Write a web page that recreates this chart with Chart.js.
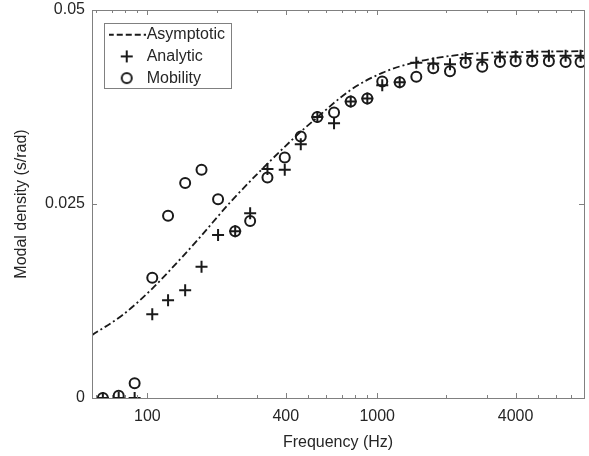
<!DOCTYPE html>
<html>
<head>
<meta charset="utf-8">
<script src="https://cdn.jsdelivr.net/npm/chart.js@4.4.1/dist/chart.umd.min.js"></script>
<style>
  html, body { margin: 0; padding: 0; background: #fff; }
</style>
</head>
<body>
<canvas id="modal" width="589" height="456"></canvas>
<script>
// ── data ────────────────────────────────────────────────────────────────────
const freqHz = [64, 75, 88, 105, 123, 146, 172, 203, 241, 280, 333, 396, 465, 549, 649,
                767, 906, 1052, 1253, 1480, 1754, 2074, 2426, 2866, 3421, 4004, 4728, 5588, 6606, 7676];
const analytic = [0, 0, 0, 0.0108, 0.0126, 0.0139, 0.0169, 0.0210, 0.0215, 0.0238, 0.0295, 0.0294,
                  0.0327, 0.0362, 0.0354, 0.0382, 0.0386, 0.0403, 0.0407, 0.0432, 0.0431, 0.0430,
                  0.0438, 0.0436, 0.0440, 0.0440, 0.0441, 0.0441, 0.0441, 0.0441];
const mobility = [0, 0.0003, 0.0019, 0.0155, 0.0235, 0.0277, 0.0294, 0.0256, 0.0215, 0.0228, 0.0284,
                  0.0310, 0.0337, 0.0362, 0.0368, 0.0382, 0.0386, 0.0408, 0.0407, 0.0414, 0.0425,
                  0.0421, 0.0432, 0.0427, 0.0433, 0.0434, 0.0434, 0.0434, 0.0433, 0.0433];
const asymFreqHz = [57.4, 78, 105, 142, 168, 234, 427, 550, 767, 1052, 1480, 2426, 4600, 7943];
const asymptotic = [0.0081, 0.0107, 0.0141, 0.0182, 0.0206, 0.0255, 0.0333, 0.0362, 0.0397,
                    0.0419, 0.0433, 0.0443, 0.0446, 0.0447];

const xTickLabels = [100, 400, 1000, 4000];
const xMinorTicks = [60, 70, 80, 90, 200, 300, 500, 600, 700, 800, 900, 2000, 3000, 5000, 6000, 7000];
const yTicks = [0, 0.025, 0.05];

const INK = "#1a1a1a";
const TEXT = "#262626";
const AXIS = "#808080";

Chart.defaults.font.family = "'Liberation Sans', Arial, sans-serif";
Chart.defaults.font.size = 16;
Chart.defaults.color = TEXT;

const toPoints = (xs, ys) => xs.map((x, i) => ({ x, y: ys[i] }));

// ── legend symbols (small canvases used as point styles) ───────────────────
function makeSymbol(kind) {
    const c = document.createElement("canvas");
    c.width = kind === "line" ? 38 : 16;
    c.height = 16;
    const g = c.getContext("2d");
    g.strokeStyle = INK;
    g.lineWidth = 2;
    if (kind === "line") {
        g.setLineDash([6, 3]);
        g.beginPath(); g.moveTo(0, 8); g.lineTo(38, 8); g.stroke();
    } else if (kind === "cross") {
        g.beginPath();
        g.moveTo(2, 8); g.lineTo(14, 8);
        g.moveTo(8, 2); g.lineTo(8, 14);
        g.stroke();
    } else {
        g.beginPath(); g.arc(8, 8, 5, 0, Math.PI * 2); g.stroke();
    }
    return c;
}
const legendSymbols = [makeSymbol("line"), makeSymbol("cross"), makeSymbol("circle")];

// ── box, inward ticks and legend frame ──────────────────────────────────────
const axesBox = {
    id: "axesBox",
    afterLayout(chart) {
        const lg = chart.legend, a = chart.chartArea;
        if (!lg) return;
        lg.left = a.left + 17; lg.top = a.top + 11;
        lg.right = lg.left + lg.width; lg.bottom = lg.top + lg.height;
    },
    afterDraw(chart) {
        const { ctx, chartArea: a, scales: { x, y } } = chart;
        ctx.save();
        ctx.strokeStyle = AXIS;
        ctx.lineWidth = 1;
        ctx.strokeRect(a.left + 0.5, a.top + 0.5, a.right - a.left, a.bottom - a.top);
        ctx.beginPath();
        const xt = (v, len) => {
            const px = Math.round(x.getPixelForValue(v)) + 0.5;
            ctx.moveTo(px, a.bottom); ctx.lineTo(px, a.bottom - len);
            ctx.moveTo(px, a.top); ctx.lineTo(px, a.top + len);
        };
        xTickLabels.forEach(v => xt(v, 5));
        xMinorTicks.forEach(v => xt(v, 3));
        yTicks.forEach(v => {
            const py = Math.round(y.getPixelForValue(v)) + 0.5;
            ctx.moveTo(a.left, py); ctx.lineTo(a.left + 5, py);
            ctx.moveTo(a.right, py); ctx.lineTo(a.right - 5, py);
        });
        ctx.stroke();

        const hb = chart.legend && chart.legend.legendHitBoxes;
        if (hb && hb.length) {
            const l = Math.min(...hb.map(h => h.left)) - 11;
            const t = hb[0].top - 4;
            const r = Math.max(...hb.map(h => h.left + h.width)) + 6;
            const b = hb[hb.length - 1].top + hb[hb.length - 1].height + 2;
            ctx.strokeRect(Math.round(l) + 0.5, Math.round(t) + 0.5, Math.round(r - l), Math.round(b - t));
        }
        ctx.restore();
    },
};

new Chart(document.getElementById("modal"), {
    type: "scatter",
    data: {
        datasets: [
            {
                label: "Asymptotic",
                data: toPoints(asymFreqHz, asymptotic),
                showLine: true,
                borderColor: INK,
                borderWidth: 1.8,
                borderDash: [7, 3, 2, 3],
                pointRadius: 0,
                cubicInterpolationMode: "monotone",
            },
            {
                label: "Analytic",
                data: toPoints(freqHz, analytic),
                pointStyle: "cross",
                pointRadius: 6,
                borderWidth: 2,
                borderColor: INK,
            },
            {
                label: "Mobility",
                data: toPoints(freqHz, mobility),
                pointStyle: "circle",
                pointRadius: 5,
                borderWidth: 2,
                borderColor: INK,
                backgroundColor: "transparent",
            },
        ],
    },
    options: {
        responsive: false,
        animation: false,
        devicePixelRatio: 1,
        layout: { autoPadding: false, padding: { top: 10, right: 5, left: 0, bottom: 0 } },
        scales: {
            x: {
                type: "logarithmic",
                min: 57.4,
                max: 7943,
                grid: { display: false, drawTicks: false },
                border: { display: false },
                afterBuildTicks: s => { s.ticks = xTickLabels.map(v => ({ value: v })); },
                afterFit: s => { s.height = 58; s.paddingLeft = 0; s.paddingRight = 0; },
                ticks: { padding: 9, autoSkip: false, maxRotation: 0, callback: v => String(v) },
                title: { display: true, text: "Frequency (Hz)", padding: { top: 0, bottom: 4 } },
            },
            y: {
                min: 0,
                max: 0.05,
                grid: { display: false, drawTicks: false },
                border: { display: false },
                afterBuildTicks: s => { s.ticks = yTicks.map(v => ({ value: v })); },
                afterFit: s => { s.width = 92; s.paddingTop = 0; s.paddingBottom = 0; },
                ticks: { padding: 7, callback: v => String(v) },
                title: { display: true, text: "Modal density (s/rad)", padding: { top: 12, bottom: 0 } },
            },
        },
        plugins: {
            tooltip: { enabled: false },
            legend: {
                position: "chartArea",
                align: "start",
                labels: {
                    usePointStyle: true,
                    pointStyleWidth: 24,
                    padding: 5.7,
                    color: TEXT,
                    generateLabels: chart => chart.data.datasets.map((ds, i) => ({
                        text: ds.label,
                        pointStyle: legendSymbols[i],
                        datasetIndex: i,
                        hidden: false,
                        fillStyle: "transparent",
                        strokeStyle: "transparent",
                        lineWidth: 0,
                        fontColor: TEXT,
                    })),
                },
            },
        },
    },
    plugins: [axesBox],
});
</script>
</body>
</html>
